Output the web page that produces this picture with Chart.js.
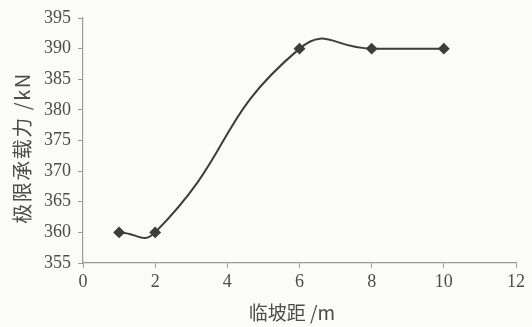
<!DOCTYPE html>
<html>
<head>
<meta charset="utf-8">
<script src="https://cdn.jsdelivr.net/npm/chart.js@4"></script>
<style>
  html, body { margin: 0; padding: 0; background: #fbfbfa; }
  #wrap { width: 532px; height: 327px; }
</style>
</head>
<body>
<div id="wrap"><canvas id="c" width="532" height="327"></canvas></div>
<script>
// slope distance (m) vs ultimate bearing capacity (kN)
const distances = [1, 2, 6, 8, 10];
const capacity = [360, 360, 390, 390, 390];
const xTicks = [0, 2, 4, 6, 8, 10, 12];
const yTicks = [355, 360, 365, 370, 375, 380, 385, 390, 395];
const xLabel = "临坡距 /m";
const yLabel = "极限承载力 /kN";

const ink = "#3d3d3d";
const axisGray = "#9a9a9a";
const textGray = "#4c4c4c";
const serif = '"Liberation Serif", "DejaVu Serif", serif';

Chart.defaults.font.family = serif;
Chart.defaults.font.size = 18;
Chart.defaults.color = textGray;

// axis titles drawn by hand so they can sit where the original has them
const titles = {
  id: "titles",
  afterDraw(chart) {
    const ctx = chart.ctx;
    ctx.save();
    ctx.fillStyle = textGray;
    ctx.textAlign = "center";
    ctx.textBaseline = "middle";
    ctx.font = '19px "Noto Sans CJK SC", sans-serif';
    ctx.fillText(xLabel, 292, 313);
    ctx.font = '20px "Noto Sans CJK SC", sans-serif';
    ctx.letterSpacing = "1.5px";
    ctx.translate(22, 148);
    ctx.rotate(-Math.PI / 2);
    ctx.fillText(yLabel, 0, 0);
    ctx.restore();
  },
};

new Chart(document.getElementById("c"), {
  type: "scatter",
  data: {
    datasets: [
      {
        data: distances.map((x, i) => ({ x, y: capacity[i] })),
        showLine: true,
        tension: 0.52,
        borderColor: ink,
        borderWidth: 2,
        pointStyle: "rectRot",
        pointRadius: 4.5,
        pointBackgroundColor: ink,
        pointBorderColor: ink,
      },
    ],
  },
  options: {
    responsive: false,
    animation: false,
    layout: { padding: { top: 18, right: 16, left: 0, bottom: 0 } },
    plugins: { legend: { display: false }, tooltip: { enabled: false } },
    scales: {
      x: {
        type: "linear",
        min: 0,
        max: 12,
        afterBuildTicks: (s) => (s.ticks = xTicks.map((v) => ({ value: v }))),
        afterFit: (s) => (s.height = 64),
        border: { color: axisGray, width: 1.2 },
        grid: { drawOnChartArea: false, drawTicks: true, tickLength: 5, color: axisGray },
        ticks: { color: textGray, padding: 3, font: { family: serif, size: 18 } },
      },
      y: {
        min: 355,
        max: 395,
        afterBuildTicks: (s) => (s.ticks = yTicks.map((v) => ({ value: v }))),
        afterFit: (s) => (s.width = 83),
        border: { color: axisGray, width: 1.2 },
        grid: { drawOnChartArea: false, drawTicks: true, tickLength: 5, color: axisGray },
        ticks: { color: textGray, padding: 7, font: { family: serif, size: 18 } },
      },
    },
  },
  plugins: [titles],
});
</script>
</body>
</html>
